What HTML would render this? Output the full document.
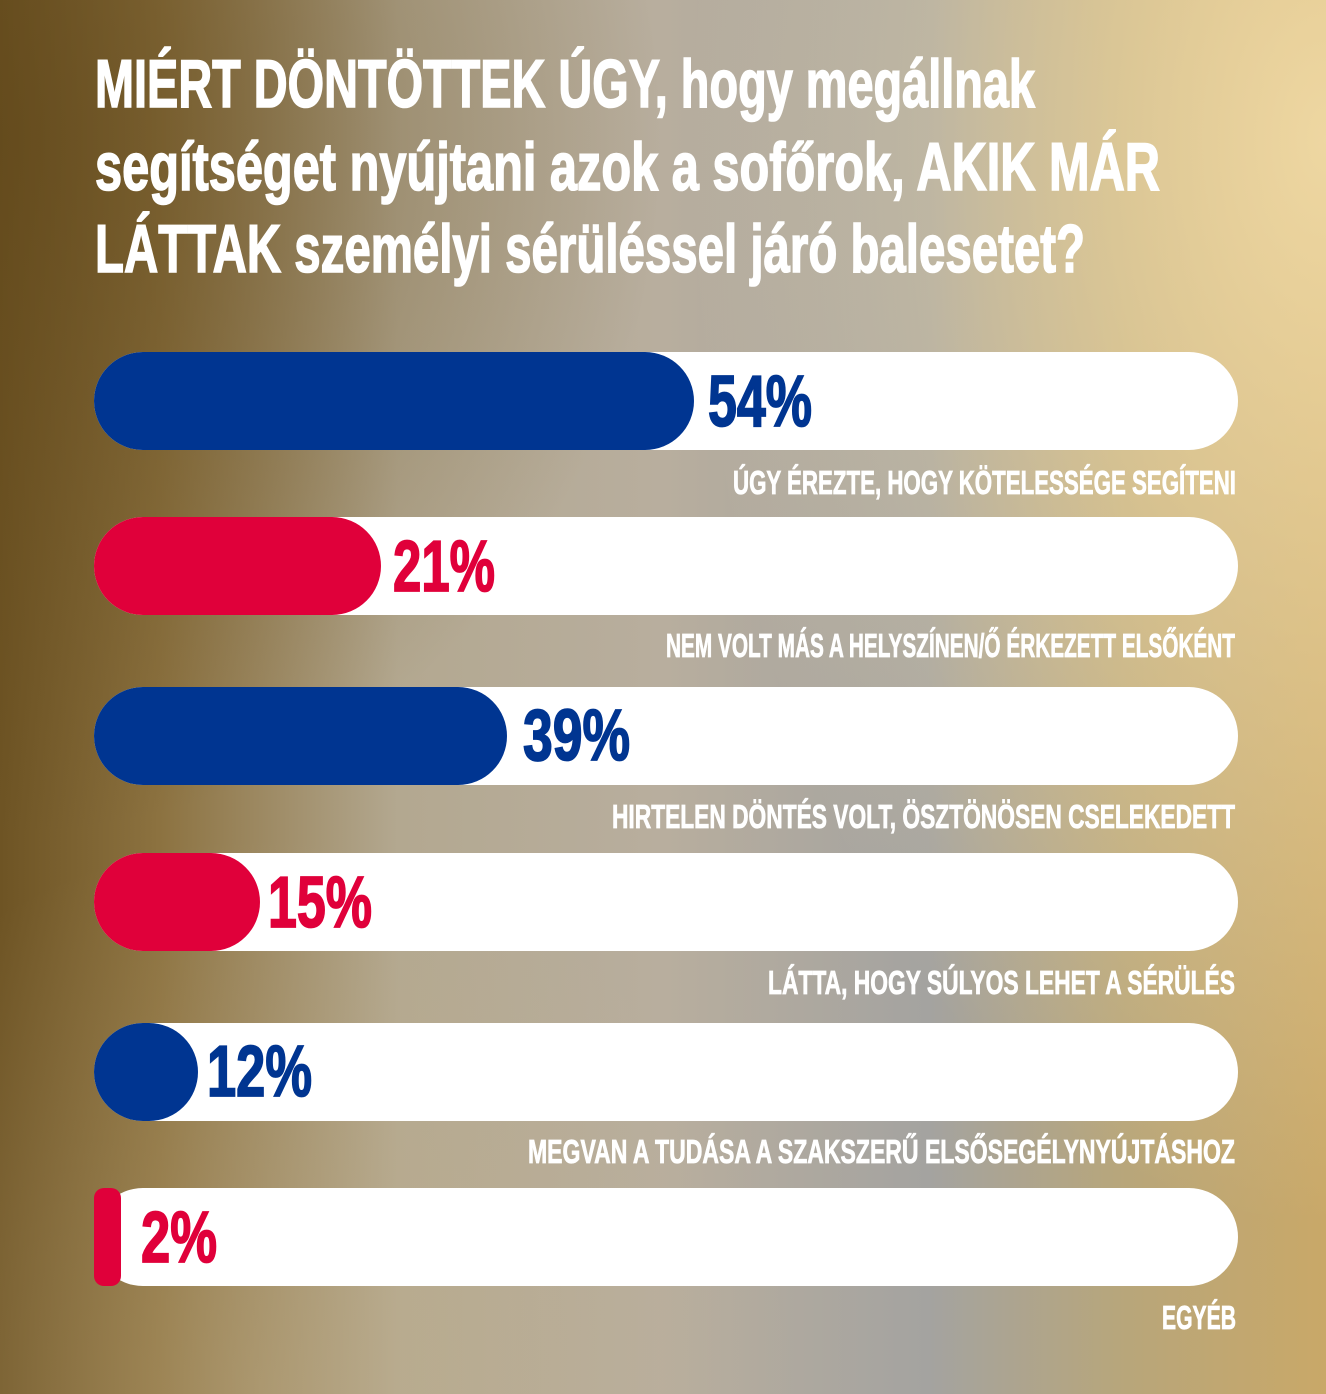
<!DOCTYPE html>
<html><head><meta charset="utf-8"><style>
html,body{margin:0;padding:0;width:1326px;height:1394px;overflow:hidden}
svg{display:block}
text{font-family:"Liberation Sans Narrow","Liberation Sans",sans-serif;font-weight:bold}
</style></head><body>
<svg width="1326" height="1394" viewBox="0 0 1326 1394" xmlns="http://www.w3.org/2000/svg">
<defs>
<linearGradient id="bg" x1="0" y1="0" x2="1" y2="0">
<stop offset="0" stop-color="#6e5424"/>
<stop offset="0.12" stop-color="#8c7240"/>
<stop offset="0.3" stop-color="#b3a890"/>
<stop offset="0.5" stop-color="#b8ae9e"/>
<stop offset="0.7" stop-color="#a4a3a0"/>
<stop offset="0.85" stop-color="#b8a67a"/>
<stop offset="1" stop-color="#c9a868"/>
</linearGradient>
<radialGradient id="glow" cx="1" cy="0.1" r="0.6" gradientTransform="translate(1 0.1) scale(0.8 1.3) translate(-1 -0.1)">
<stop offset="0" stop-color="#f2dca8" stop-opacity="0.9"/>
<stop offset="1" stop-color="#f2dca8" stop-opacity="0"/>
</radialGradient>
<radialGradient id="dark" cx="0" cy="0.1" r="0.5">
<stop offset="0" stop-color="#5e4518" stop-opacity="0.6"/>
<stop offset="1" stop-color="#5e4518" stop-opacity="0"/>
</radialGradient>
<radialGradient id="warm" cx="0.2" cy="1" r="0.4">
<stop offset="0" stop-color="#c8b48a" stop-opacity="0.35"/>
<stop offset="1" stop-color="#c8b48a" stop-opacity="0"/>
</radialGradient>
</defs>
<rect width="1326" height="1394" fill="url(#bg)"/>
<rect width="1326" height="1394" fill="url(#dark)"/>
<rect width="1326" height="1394" fill="url(#warm)"/>
<rect width="1326" height="1394" fill="url(#glow)"/>

<g fill="#fff" stroke="#fff" stroke-width="1.6" font-size="68">
<text x="95" y="107" textLength="940" lengthAdjust="spacingAndGlyphs">MIÉRT DÖNTÖTTEK ÚGY, hogy megállnak</text>
<text x="95" y="190" textLength="1065" lengthAdjust="spacingAndGlyphs">segítséget nyújtani azok a sofőrok, AKIK MÁR</text>
<text x="95" y="272" textLength="990" lengthAdjust="spacingAndGlyphs">LÁTTAK személyi sérüléssel járó balesetet?</text>
</g>

<g>
<rect x="94" y="352" width="1144" height="98" rx="49" fill="#fff"/>
<rect x="94" y="352" width="600" height="98" rx="49" fill="#003591"/>
<rect x="94" y="517" width="1144" height="98" rx="49" fill="#fff"/>
<rect x="94" y="517" width="287" height="98" rx="49" fill="#e0003a"/>
<rect x="94" y="687" width="1144" height="98" rx="49" fill="#fff"/>
<rect x="94" y="687" width="413" height="98" rx="49" fill="#003591"/>
<rect x="94" y="853" width="1144" height="98" rx="49" fill="#fff"/>
<rect x="94" y="853" width="166" height="98" rx="49" fill="#e0003a"/>
<rect x="94" y="1023" width="1144" height="98" rx="49" fill="#fff"/>
<rect x="94" y="1023" width="104" height="98" rx="49" fill="#003591"/>
<rect x="94" y="1188" width="1144" height="98" rx="49" fill="#fff"/>
<rect x="94" y="1188" width="27" height="98" rx="10" fill="#e0003a"/>
</g>

<g font-size="72" stroke-width="1.8">
<text x="708" y="426" fill="#003591" stroke="#003591" textLength="104" lengthAdjust="spacingAndGlyphs">54%</text>
<text x="393" y="591" fill="#e0003a" stroke="#e0003a" textLength="102" lengthAdjust="spacingAndGlyphs">21%</text>
<text x="523" y="760" fill="#003591" stroke="#003591" textLength="107" lengthAdjust="spacingAndGlyphs">39%</text>
<text x="268" y="927" fill="#e0003a" stroke="#e0003a" textLength="104" lengthAdjust="spacingAndGlyphs">15%</text>
<text x="207" y="1096" fill="#003591" stroke="#003591" textLength="105" lengthAdjust="spacingAndGlyphs">12%</text>
<text x="141" y="1262" fill="#e0003a" stroke="#e0003a" textLength="76" lengthAdjust="spacingAndGlyphs">2%</text>
</g>

<g fill="#fff" stroke="#fff" stroke-width="0.8" font-size="33" text-anchor="end">
<text x="1236" y="494" textLength="503" lengthAdjust="spacingAndGlyphs">ÚGY ÉREZTE, HOGY KÖTELESSÉGE SEGÍTENI</text>
<text x="1235" y="657" textLength="569" lengthAdjust="spacingAndGlyphs">NEM VOLT MÁS A HELYSZÍNEN/Ő ÉRKEZETT ELSŐKÉNT</text>
<text x="1235" y="828" textLength="623" lengthAdjust="spacingAndGlyphs">HIRTELEN DÖNTÉS VOLT, ÖSZTÖNÖSEN CSELEKEDETT</text>
<text x="1235" y="994" textLength="467" lengthAdjust="spacingAndGlyphs">LÁTTA, HOGY SÚLYOS LEHET A SÉRÜLÉS</text>
<text x="1235" y="1163" textLength="707" lengthAdjust="spacingAndGlyphs">MEGVAN A TUDÁSA A SZAKSZERŰ ELSŐSEGÉLYNYÚJTÁSHOZ</text>
<text x="1236" y="1329" textLength="74" lengthAdjust="spacingAndGlyphs">EGYÉB</text>
</g>
</svg>
</body></html>
